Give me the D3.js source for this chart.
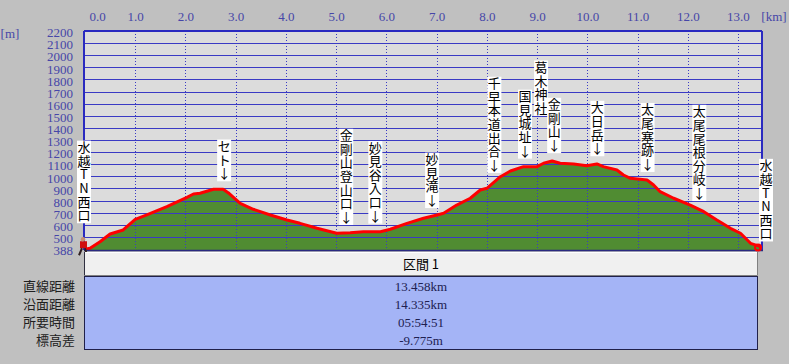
<!DOCTYPE html>
<html>
<head>
<meta charset="utf-8">
<script src="https://cdn.jsdelivr.net/npm/d3@7"></script>
<style>
html,body{margin:0;padding:0;background:#c0c0c0;}
svg{display:block;}
</style>
</head>
<body>
<svg id="chart" width="789" height="364"></svg>
<script>
// ---- data ----
const distKm = [0.00,0.10,0.30,0.50,0.76,1.00,1.23,1.63,2.03,2.16,2.29,2.56,2.75,2.85,3.09,3.35,3.69,4.02,4.28,4.62,5.01,5.28,5.54,5.88,6.08,6.41,6.74,7.01,7.14,7.40,7.67,7.87,8.00,8.27,8.47,8.73,9.00,9.13,9.30,9.46,9.73,9.99,10.19,10.32,10.59,10.72,10.86,11.19,11.32,11.45,11.72,12.05,12.32,12.58,12.85,13.05,13.25,13.45,13.458];
const elevM  = [398,406,460,524,557,645,681,749,827,854,860,893,893,865,777,728,681,639,612,571,530,535,543,543,563,612,654,681,695,763,819,887,901,997,1044,1080,1080,1108,1127,1108,1102,1088,1102,1080,1052,1011,984,970,929,873,819,763,708,639,571,530,447,419,388];

const wpNames = ["水越TN西口","セト","金剛山登山口","妙見谷入口","妙見滝","千早本道出合","国見城址","葛木神社","金剛山","大日岳","太尾塞跡","太尾尾根分岐","水越TN西口"];
const wpKm    = [0, 2.77, 5.20, 5.78, 6.91, 8.15, 8.76, 9.08, 9.34, 10.20, 11.20, 12.23, 13.458];
const wpElev  = [398, 893, 532, 543, 672, 962, 1080, 1095, 1125, 1100, 970, 730, 388];
const wpArrow = [false,true,true,true,true,true,true,false,true,true,true,true,false];

const xTicks = [0,1,2,3,4,5,6,7,8,9,10,11,12,13];
const yTicks = [2200,2100,2000,1900,1800,1700,1600,1500,1400,1300,1200,1100,1000,900,800,700,600,500,400];
const yBottomLabel = "388";
const xUnit = "[km]", yUnit = "[m]";

const sectionTitle = "区間 1";
const rowLabels = ["直線距離","沿面距離","所要時間","標高差"];
const rowValues = ["13.458km","14.335km","05:54:51","-9.775m"];

// ---- drawing ----
const svg = d3.select("#chart");
const L = 85, R = 761, T = 31, B = 250;
const x = d3.scaleLinear().domain([0, 13.458]).range([L, R]);
const y = d3.scaleLinear().domain([400, 2200]).range([249, T]);
const blue = "#3a3ac4", txtBlue = "#4646a8";
const numFont = "'Liberation Serif','DejaVu Serif',serif";
const cjk = "'Noto Sans CJK JP','Noto Sans CJK SC',sans-serif";

svg.append("rect").attr("width",789).attr("height",364).attr("fill","#c0c0c0");
svg.append("rect").attr("x",L).attr("y",T).attr("width",R-L).attr("height",B-T).attr("fill","#dcdcdc");

const pts = distKm.map((d,i)=>[d, elevM[i]]);
svg.append("path").datum(pts)
  .attr("d", d3.area().x(d=>x(d[0])).y0(B).y1(d=>y(d[1])))
  .attr("fill","#508c32");

// grid
const g = svg.append("g");
yTicks.filter(v=>v>400 && v<2200).forEach(v=>{
  g.append("line").attr("x1",L).attr("x2",R).attr("y1",Math.round(y(v))+0.5).attr("y2",Math.round(y(v))+0.5)
    .attr("stroke",blue).attr("stroke-width",1);
});
xTicks.filter(v=>v>0).forEach(v=>{
  g.append("line").attr("x1",Math.round(x(v))+0.5).attr("x2",Math.round(x(v))+0.5).attr("y1",T).attr("y2",B)
    .attr("stroke",blue).attr("stroke-width",1).attr("stroke-dasharray","1,2");
});

// profile line
svg.append("path").datum(pts)
  .attr("d", d3.line().x(d=>x(d[0])).y(d=>y(d[1])))
  .attr("fill","none").attr("stroke","#ff0000").attr("stroke-width",3).attr("stroke-linejoin","round");

// border
svg.append("line").attr("x1",L-1).attr("x2",R+1).attr("y1",T).attr("y2",T).attr("stroke","#2a2ac0").attr("stroke-width",2);
svg.append("line").attr("x1",L-1).attr("x2",L-1).attr("y1",T).attr("y2",B).attr("stroke","#2a2ac0").attr("stroke-width",2);
svg.append("line").attr("x1",R+1).attr("x2",R+1).attr("y1",T).attr("y2",B).attr("stroke","#2a2ac0").attr("stroke-width",2);
svg.append("line").attr("x1",L-1).attr("x2",R+2).attr("y1",B+0.5).attr("y2",B+0.5).attr("stroke","#2a2a80").attr("stroke-width",1.5);

// axes
const ax = svg.append("g").attr("transform","translate(0,20)")
  .call(d3.axisTop(x).tickValues(xTicks).tickFormat(d=>d.toFixed(1)).tickSize(0).tickPadding(0));
ax.select(".domain").remove();
ax.selectAll("text").attr("fill",txtBlue).attr("font-family",numFont).attr("font-size",13)
  .attr("dy","0.35em").attr("y",-4)
  .attr("dx",d=>d===0?12:0);
const ay = svg.append("g").attr("transform","translate(73,0)")
  .call(d3.axisLeft(y).tickValues(yTicks).tickFormat(d=>d===400?yBottomLabel:String(d)).tickSize(0).tickPadding(0));
ay.select(".domain").remove();
ay.selectAll("text").attr("fill",txtBlue).attr("font-family",numFont).attr("font-size",13)
  .attr("dy","0.32em").attr("y",1.5);
svg.append("text").attr("x",774).attr("y",16).attr("dy","0.35em").attr("text-anchor","middle")
  .attr("fill",txtBlue).attr("font-family",numFont).attr("font-size",13).text(xUnit);
svg.append("text").attr("x",10).attr("y",33).attr("dy","0.35em").attr("text-anchor","middle")
  .attr("fill",txtBlue).attr("font-family",numFont).attr("font-size",13).text(yUnit);

// start hiker icon & end marker
const hk = svg.append("g").attr("transform",`translate(${x(0)},${y(398)})`);
hk.append("rect").attr("x",-5).attr("y",-8).attr("width",7).attr("height",7).attr("fill","#d01010");
hk.append("circle").attr("cx",-2).attr("cy",-10).attr("r",2.2).attr("fill","#c89070");
hk.append("path").attr("d","M-3,-1 L-6,6 M0,-1 L2,6").attr("stroke","#302020").attr("stroke-width",2);
svg.append("circle").attr("cx",x(13.458)-3).attr("cy",y(388)-3).attr("r",3).attr("fill","none").attr("stroke","#ff0000").attr("stroke-width",2);

// waypoint labels
const pitch = 13.6;
const lab = svg.append("g");
const last = wpNames.length-1;
wpNames.forEach((name,i)=>{
  const chars = Array.from(name);
  if (wpArrow[i]) chars.push("↓");
  let cx = x(wpKm[i]);
  let bottom = y(wpElev[i]) - 9;
  if (i===0) { cx -= 1; bottom = y(wpElev[i]) - 27; }
  else if (i===last) { cx += 5; bottom = y(wpElev[i]) - 10; }
  else if (!wpArrow[i]) { bottom = y(wpElev[i]) - 50; } // crowded label lifted above neighbours
  const top = bottom - chars.length*pitch;
  lab.append("rect").attr("x",cx-7).attr("y",top).attr("width",14).attr("height",bottom-top+1).attr("fill","#ffffff");
  chars.forEach((c,j)=>{
    lab.append("text").attr("x",cx).attr("y",top + (j+0.5)*pitch).attr("dy","0.36em")
      .attr("text-anchor","middle").attr("font-family",cjk).attr("font-size",13).attr("fill","#000")
      .text(c);
  });
});

// table
const tL = 84, tR = 758;
svg.append("rect").attr("x",tL).attr("y",252).attr("width",tR-tL).attr("height",24).attr("fill","#f0f0f0");
svg.append("path").attr("d",`M${tL+0.5},276 V252.5 H${tR}`).attr("stroke","#ffffff").attr("fill","none");
svg.append("path").attr("d",`M${tL+0.5},252 V276`).attr("stroke","#303040").attr("fill","none");
svg.append("path").attr("d",`M${tR-0.5},252 V275.5 H${tL}`).attr("stroke","#808080").attr("fill","none");
svg.append("text").attr("x",(tL+tR)/2).attr("y",264).attr("dy","0.36em").attr("text-anchor","middle")
  .attr("font-family",cjk).attr("font-size",13).attr("fill","#000").text(sectionTitle);
svg.append("rect").attr("x",tL+0.5).attr("y",276.5).attr("width",tR-tL-1).attr("height",73).attr("fill","#a4b4f6").attr("stroke","#20204a");
const rowY = d3.scalePoint().domain(rowLabels).range([286,340]);
rowLabels.forEach((r,i)=>{
  svg.append("text").attr("x",75).attr("y",rowY(r)).attr("dy","0.36em").attr("text-anchor","end")
    .attr("font-family",cjk).attr("font-size",13).attr("fill","#202020").text(r);
  svg.append("text").attr("x",(tL+tR)/2).attr("y",rowY(r)).attr("dy","0.36em").attr("text-anchor","middle")
    .attr("font-family",numFont).attr("font-size",13).attr("fill","#202050").text(rowValues[i]);
});
</script>
</body>
</html>
